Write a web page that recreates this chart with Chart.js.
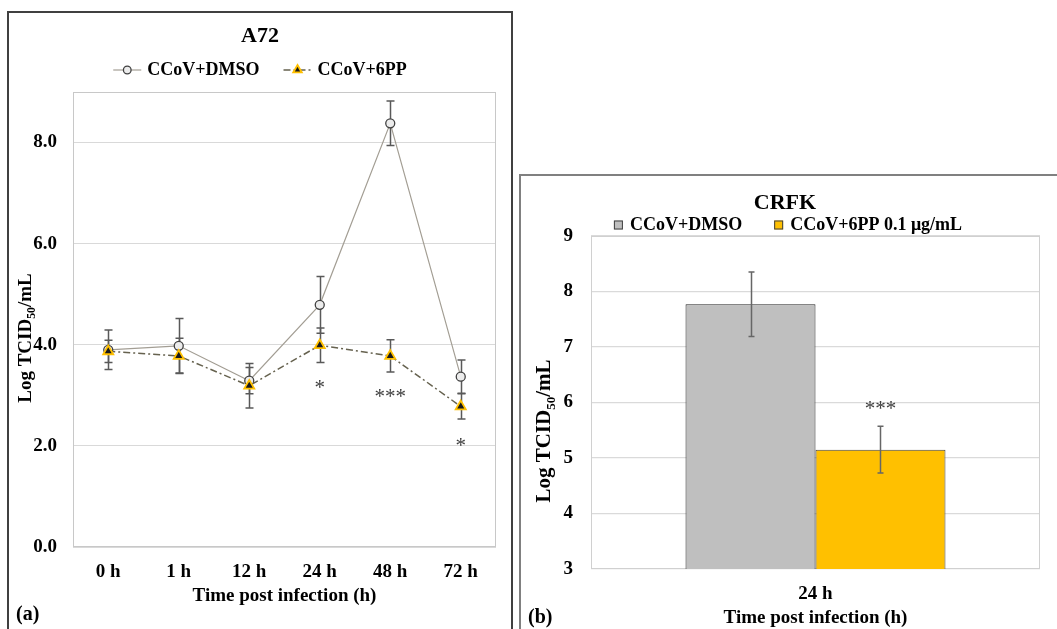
<!DOCTYPE html>
<html>
<head>
<meta charset="utf-8">
<script src="https://cdn.jsdelivr.net/npm/chart.js@4.4.0/dist/chart.umd.min.js"></script>
<style>
html,body{margin:0;padding:0;width:1057px;height:629px;overflow:hidden;background:#fff;}
.panel{position:absolute;box-sizing:border-box;}
#pa{left:7px;top:11px;width:506px;height:620px;border:2px solid #404040;}
#pb{left:519px;top:174px;width:600px;height:500px;border:2px solid #808080;}
canvas{position:absolute;left:0;top:0;}
</style>
</head>
<body>
<div class="panel" id="pa"></div>
<div class="panel" id="pb"></div>
<canvas id="ca" width="1057" height="629"></canvas>
<canvas id="cb" width="1057" height="629"></canvas>
<script>
const FONT = "'Liberation Serif','Times New Roman',serif";

// ---------- Panel (a): A72 ----------
const timeLabels = ['0 h', '1 h', '12 h', '24 h', '48 h', '72 h'];
const dmsoA      = [3.90, 3.98, 3.29, 4.79, 8.38, 3.37];
const dmsoAErr   = [0.39, 0.54, 0.26, 0.56, 0.44, 0.33];
const ppA        = [3.87, 3.78, 3.19, 3.99, 3.78, 2.78];
const ppAErr     = [0.22, 0.35, 0.44, 0.34, 0.32, 0.25];
const yTicksA    = [0, 2, 4, 6, 8];
const sigA       = ['', '', '', '*', '***', '*'];
const sigAY      = [null, null, null, 3.03, 2.85, 1.88];

// ---------- Panel (b): CRFK ----------
const catB       = ['24 h'];
const dmsoB      = [7.77];
const dmsoBErr   = [0.58];
const ppB        = [5.15];
const ppBErr     = [0.42];
const yTicksB    = [3, 4, 5, 6, 7, 8, 9];
const sigB       = ['***'];
const sigBY      = [5.77];

const tickFont = {family: FONT, size: 19, weight: 'bold'};

function drawErrBars(chart, errs, color, lw, cap) {
  const ctx = chart.ctx, ys = chart.scales.y;
  ctx.save();
  ctx.strokeStyle = color; ctx.lineWidth = lw;
  chart.data.datasets.forEach((ds, di) => {
    const meta = chart.getDatasetMeta(di);
    meta.data.forEach((el, i) => {
      const v = ds.data[i], e = errs[di][i];
      const x = Math.round(el.x) + 0.5;
      const yt = ys.getPixelForValue(v + e), yb = ys.getPixelForValue(v - e);
      ctx.beginPath();
      ctx.moveTo(x, yt); ctx.lineTo(x, yb);
      ctx.moveTo(x - cap, yt); ctx.lineTo(x + cap, yt);
      ctx.moveTo(x - cap, yb); ctx.lineTo(x + cap, yb);
      ctx.stroke();
    });
  });
  ctx.restore();
}

function drawFrame(chart, color) {
  const a = chart.chartArea, c = chart.ctx;
  c.save(); c.strokeStyle = color; c.lineWidth = 1;
  c.strokeRect(Math.round(a.left) + 0.5, Math.round(a.top) + 0.5,
               Math.round(a.right - a.left) - 1, Math.round(a.bottom - a.top) - 1);
  c.restore();
}

function drawYTitle(ctx, bx, cy, size) {
  const parts = [['Log TCID', size, 0], ['50', size * 0.62, size * 0.22], ['/mL', size, 0]];
  ctx.save();
  ctx.translate(bx, cy); ctx.rotate(-Math.PI / 2);
  ctx.fillStyle = '#000'; ctx.textBaseline = 'alphabetic'; ctx.textAlign = 'left';
  let total = 0;
  const w = parts.map(p => { ctx.font = `bold ${p[1]}px ${FONT}`; const m = ctx.measureText(p[0]).width; total += m; return m; });
  let x = -total / 2;
  parts.forEach((p, k) => { ctx.font = `bold ${p[1]}px ${FONT}`; ctx.fillText(p[0], x, p[2]); x += w[k]; });
  ctx.restore();
}

function drawLegend(ctx, items, cx, y, font, symW, gapSym, gapItem) {
  ctx.save();
  ctx.font = font;
  const widths = items.map(it => symW + gapSym + ctx.measureText(it.text).width);
  const total = widths.reduce((a, b) => a + b, 0) + gapItem * (items.length - 1);
  let x = cx - total / 2;
  items.forEach((it, k) => {
    it.sym(ctx, x, y, symW);
    ctx.font = font; ctx.fillStyle = '#000'; ctx.textAlign = 'left'; ctx.textBaseline = 'middle';
    ctx.fillText(it.text, x + symW + gapSym, y);
    x += widths[k] + gapItem;
  });
  ctx.restore();
}

function lineSym(ds) {
  return (ctx, x, y, w) => {
    ctx.save();
    ctx.strokeStyle = ds.borderColor; ctx.lineWidth = ds.borderWidth;
    ctx.setLineDash(ds.borderDash || []);
    ctx.beginPath(); ctx.moveTo(x, y); ctx.lineTo(x + w, y); ctx.stroke();
    ctx.setLineDash([]);
    ctx.fillStyle = ds.pointBackgroundColor; ctx.strokeStyle = ds.pointBorderColor; ctx.lineWidth = ds.pointBorderWidth;
    Chart.helpers.drawPoint(ctx, {pointStyle: ds.pointStyle, rotation: 0, radius: ds.pointRadius * 0.85, borderWidth: ds.pointBorderWidth}, x + w / 2, y);
    ctx.restore();
  };
}
function boxSym(ds) {
  return (ctx, x, y, w) => {
    ctx.save();
    ctx.fillStyle = ds.backgroundColor; ctx.strokeStyle = '#404040'; ctx.lineWidth = 1;
    ctx.fillRect(x, y - w / 2, w, w); ctx.strokeRect(x + 0.5, y - w / 2 + 0.5, w - 1, w - 1);
    ctx.restore();
  };
}

function drawSig(chart, dsIndex, marks, ys) {
  const ctx = chart.ctx, meta = chart.getDatasetMeta(dsIndex), sc = chart.scales.y;
  ctx.save();
  ctx.font = `21px ${FONT}`; ctx.fillStyle = '#404040';
  ctx.textAlign = 'center'; ctx.textBaseline = 'alphabetic';
  marks.forEach((m, i) => { if (m) ctx.fillText(m, meta.data[i].x, sc.getPixelForValue(ys[i])); });
  ctx.restore();
}

// ---------------- Chart A ----------------
const dsA = [
  {label: 'CCoV+DMSO', data: dmsoA, borderColor: '#a39e94', borderWidth: 1.2, tension: 0,
   pointStyle: 'circle', pointRadius: 4.5, pointBackgroundColor: '#ececec', pointBorderColor: '#404040', pointBorderWidth: 1.3, order: 1},
  {label: 'CCoV+6PP', data: ppA, borderColor: '#66624f', borderWidth: 1.5, borderDash: [7, 3, 2, 3], tension: 0,
   pointStyle: 'triangle', pointRadius: 5.8, pointBackgroundColor: '#1a1a1a', pointBorderColor: '#FFC000', pointBorderWidth: 1.8, order: 0}
];

new Chart(document.getElementById('ca'), {
  type: 'line',
  data: {labels: timeLabels, datasets: dsA},
  options: {
    responsive: false, animation: false, events: [],
    layout: {padding: {left: 8, top: 92, right: 561, bottom: 1}},
    plugins: {legend: {display: false}, title: {display: false}, tooltip: {enabled: false}},
    scales: {
      x: {
        offset: true, grid: {display: false}, border: {display: false},
        ticks: {padding: 6, color: '#000', font: tickFont},
        title: {display: true, text: 'Time post infection (h)', color: '#000', font: tickFont, padding: {top: 0, bottom: 21}},
        afterFit(s) { s.height = 81; }
      },
      y: {
        min: 0, max: 9,
        grid: {color: '#d9d9d9', drawTicks: false, lineWidth: 1}, border: {display: false},
        afterBuildTicks(s) { s.ticks = yTicksA.map(v => ({value: v})); },
        ticks: {padding: 16, color: '#000', font: tickFont, callback: v => Number(v).toFixed(1)},
        afterFit(s) { s.width = 65; }
      }
    }
  },
  plugins: [{
    id: 'decorA',
    beforeDatasetsDraw(chart) {
      drawFrame(chart, '#c8c8c8');
      drawErrBars(chart, [dmsoAErr, ppAErr], '#595959', 1.5, 4);
    },
    afterDraw(chart) {
      const ctx = chart.ctx;
      drawSig(chart, 0, sigA, sigAY);
      ctx.save();
      ctx.fillStyle = '#000'; ctx.textAlign = 'center'; ctx.textBaseline = 'middle';
      ctx.font = `bold 22px ${FONT}`;
      ctx.fillText('A72', 260, 36);
      ctx.textAlign = 'left'; ctx.font = `bold 20px ${FONT}`;
      ctx.fillText('(a)', 16, 615);
      ctx.restore();
      drawLegend(ctx, [{text: dsA[0].label, sym: lineSym(dsA[0])}, {text: dsA[1].label, sym: lineSym(dsA[1])}],
                 260, 70, `bold 18px ${FONT}`, 28, 6, 24);
      drawYTitle(ctx, 31, 338, 19);
    }
  }]
});

// ---------------- Chart B ----------------
const dsB = [
  {label: 'CCoV+DMSO', data: dmsoB, backgroundColor: '#bfbfbf', borderColor: '#262626', borderWidth: 1, borderSkipped: false},
  {label: 'CCoV+6PP 0.1 μg/mL', data: ppB, backgroundColor: '#ffc000', borderColor: '#404040', borderWidth: 1, borderSkipped: false}
];

new Chart(document.getElementById('cb'), {
  type: 'bar',
  data: {labels: catB, datasets: dsB},
  options: {
    responsive: false, animation: false, events: [],
    layout: {padding: {left: 520, top: 236, right: 17, bottom: 0}},
    datasets: {bar: {categoryPercentage: 0.579, barPercentage: 1.0}},
    plugins: {legend: {display: false}, title: {display: false}, tooltip: {enabled: false}},
    scales: {
      x: {
        grid: {display: false}, border: {display: false},
        ticks: {padding: 6, color: '#000', font: tickFont},
        title: {display: true, text: 'Time post infection (h)', color: '#000', font: tickFont, padding: {top: 0, bottom: 0}},
        afterFit(s) { s.height = 60; }
      },
      y: {
        min: 3, max: 9,
        grid: {color: '#dadada', drawTicks: false, lineWidth: 1.3}, border: {display: false},
        afterBuildTicks(s) { s.ticks = yTicksB.map(v => ({value: v})); },
        ticks: {padding: 18, color: '#000', font: tickFont, callback: v => String(v)},
        afterFit(s) { s.width = 71; }
      }
    }
  },
  plugins: [{
    id: 'decorB',
    beforeDatasetsDraw(chart) { drawFrame(chart, '#d0d0d0'); },
    afterDatasetsDraw(chart) { drawErrBars(chart, [dmsoBErr, ppBErr], '#666666', 1.5, 3); },
    afterDraw(chart) {
      const ctx = chart.ctx;
      drawSig(chart, 1, sigB, sigBY);
      ctx.save();
      ctx.fillStyle = '#000'; ctx.textAlign = 'center'; ctx.textBaseline = 'middle';
      ctx.font = `bold 22px ${FONT}`;
      ctx.fillText('CRFK', 785, 203);
      ctx.textAlign = 'left'; ctx.font = `bold 20px ${FONT}`;
      ctx.fillText('(b)', 528, 618);
      ctx.restore();
      drawLegend(ctx, [{text: dsB[0].label, sym: boxSym(dsB[0])}, {text: dsB[1].label, sym: boxSym(dsB[1])}],
                 788, 225, `bold 18px ${FONT}`, 9, 7, 32);
      drawYTitle(ctx, 550, 431, 21);
    }
  }]
});
</script>
</body>
</html>
